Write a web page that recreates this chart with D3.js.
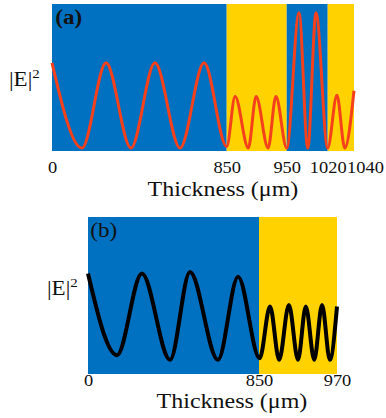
<!DOCTYPE html>
<html>
<head>
<meta charset="utf-8">
<script src="https://cdn.jsdelivr.net/npm/d3@7"></script>
<style>
  body { margin: 0; background: #fff; }
  svg text { font-family: "Liberation Serif", "Times New Roman", Times, serif; fill: #111;
    transform-box: fill-box; transform-origin: center; transform: scaleX(1.15); }
  svg text.title { transform: scaleX(1.2); }
</style>
</head>
<body>
<svg id="fig" width="386" height="418"></svg>
<script>
// panel (a): layer boundaries (um) and |E|^2 read at peaks / troughs
const layersA = [0, 850, 950, 1020, 1040];
const ticksA = [0, 850, 950, 1020, 1040];
const thickA = [0, 146, 263, 384, 501, 623, 740, 850, 864, 886, 899, 919, 932, 950, 971, 986, 1000, 1020, 1027, 1033, 1040];
const fieldA = [0.60, 0.02, 0.60, 0.02, 0.60, 0.02, 0.60, 0.03, 0.37, 0.02, 0.37, 0.02, 0.37, 0.02, 0.94, 0.02, 0.94, 0.02, 0.38, 0.02, 0.41];

// panel (b)
const layersB = [0, 850, 970];
const ticksB = [0, 850, 970];
const thickB = [0, 144, 268, 408, 507, 646, 746, 851, 867, 881, 896, 910, 922, 935, 947, 959, 970];
const fieldB = [0.64, 0.12, 0.64, 0.09, 0.65, 0.09, 0.62, 0.10, 0.43, 0.09, 0.44, 0.09, 0.43, 0.09, 0.44, 0.09, 0.43];

const layerColors = ['#0070c0', '#ffd200'];
const svg = d3.select('#fig');

function panel(opts) {
  const { layers, ticks, thick, field, xRange, yRange, lineColor, lineWidth } = opts;
  const x = d3.scaleLinear().domain(layers).range(xRange);
  const y = d3.scaleLinear().domain([0, 1]).range(yRange);
  const g = svg.append('g');

  g.selectAll('rect.layer')
    .data(d3.pairs(layers))
    .join('rect')
    .attr('class', 'layer')
    .attr('x', d => x(d[0]))
    .attr('y', y(1))
    .attr('width', d => x(d[1]) - x(d[0]))
    .attr('height', y(0) - y(1))
    .attr('fill', (d, i) => layerColors[i % 2]);

  const pts = thick.map((t, i) => [t, field[i]]);
  const line = d3.line().x(d => x(d[0])).y(d => y(d[1])).curve(d3.curveMonotoneX);
  g.append('path')
    .attr('d', line(pts))
    .attr('fill', 'none')
    .attr('stroke', lineColor)
    .attr('stroke-width', lineWidth)
    .attr('stroke-linejoin', 'round');

  const axis = g.append('g')
    .attr('transform', `translate(0,${opts.tickY})`)
    .call(d3.axisBottom(x).tickValues(ticks).tickSize(0).tickFormat(d3.format('d')));
  axis.attr('font-family', null);
  axis.select('.domain').remove();
  axis.selectAll('text')
    .attr('y', 0).attr('dy', 0)
    .attr('font-size', 16)
    .attr('fill', '#111');
  if (opts.lastStart) {
    axis.selectAll('.tick:last-of-type text').attr('text-anchor', 'start').attr('x', -5);
  }

  g.append('text')
    .attr('class', 'title')
    .attr('x', opts.titleX).attr('y', opts.titleY)
    .attr('text-anchor', 'middle')
    .attr('font-size', 20)
    .text('Thickness (\u03bcm)');

  const lab = g.append('text')
    .attr('x', opts.eX).attr('y', opts.eY)
    .attr('font-size', 20);
  lab.append('tspan').text('|E|');
  lab.append('tspan').attr('font-size', 13).attr('dy', -8).text('2');

  g.append('text')
    .attr('x', opts.tagX).attr('y', opts.tagY)
    .attr('font-size', 20)
    .attr('font-weight', opts.tagBold ? 'bold' : 'normal')
    .text(opts.tag);
}

panel({
  layers: layersA, ticks: ticksA, thick: thickA, field: fieldA,
  xRange: [52, 226.7, 286.7, 327.7, 354], yRange: [151, 4],
  lineColor: '#f5401c', lineWidth: 3,
  tickY: 173, lastStart: true,
  titleX: 223, titleY: 196,
  eX: 11, eY: 86,
  tag: '(a)', tagX: 57, tagY: 24, tagBold: true
});

panel({
  layers: layersB, ticks: ticksB, thick: thickB, field: fieldB,
  xRange: [88, 259, 337], yRange: [374, 217],
  lineColor: '#000', lineWidth: 4,
  tickY: 386, lastStart: false,
  titleX: 232, titleY: 408,
  eX: 49, eY: 295,
  tag: '(b)', tagX: 92, tagY: 237, tagBold: false
});
</script>
</body>
</html>
